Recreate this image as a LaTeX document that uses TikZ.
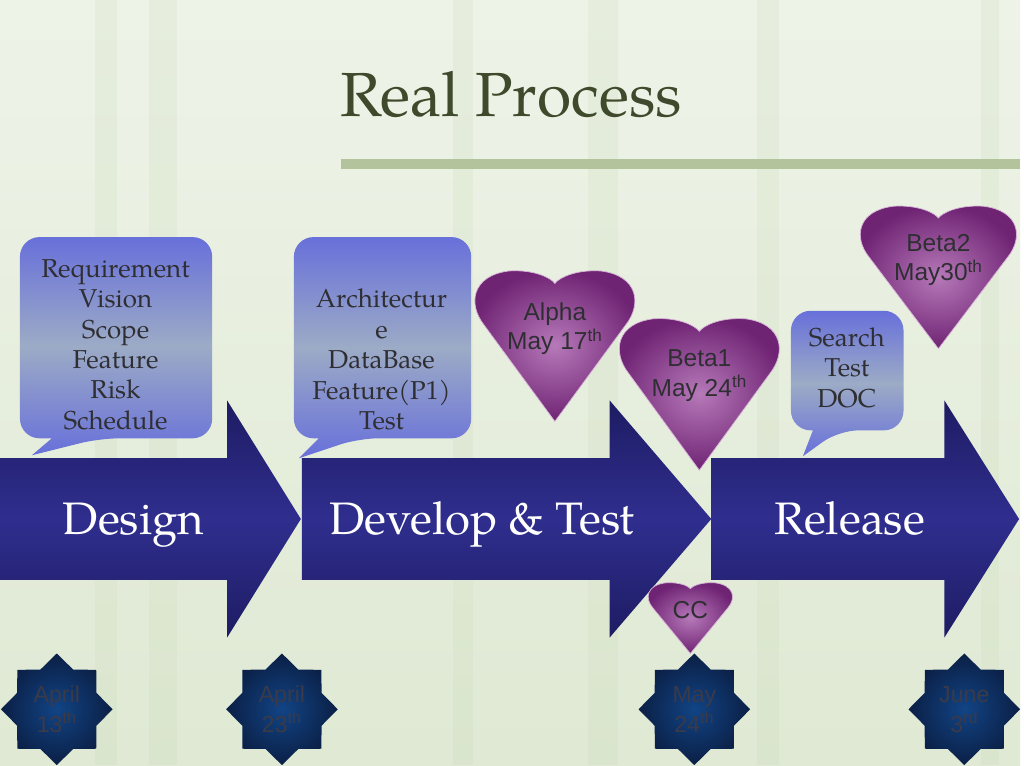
\documentclass[tikz,border=0pt]{standalone}
\usepackage{fontspec}
\setmainfont{TeX Gyre Pagella}
\newfontfamily\heartfont{Liberation Sans}
\usetikzlibrary{shapes.geometric}
\definecolor{bgtop}{HTML}{EEF3E8}
\definecolor{bgbot}{HTML}{DFE9D3}
\definecolor{stem}{HTML}{CFDDBF}
\definecolor{titlecol}{HTML}{3E4A2B}
\definecolor{rulecol}{HTML}{B3C49D}
\definecolor{arrowmid}{HTML}{2F2E8E}
\definecolor{arrowedge}{HTML}{1E1C63}
\definecolor{notetop}{HTML}{6870DA}
\definecolor{notemid}{HTML}{9CABC6}
\definecolor{heartin}{HTML}{B679B9}
\definecolor{heartout}{HTML}{6F2373}
\definecolor{starin}{HTML}{114485}
\definecolor{starout}{HTML}{0B1F45}
\definecolor{inktext}{HTML}{2F2F33}
\definecolor{startext}{HTML}{3A3A48}
\begin{document}
\begin{tikzpicture}[x=0.025cm,y=-0.025cm,
  stage/.style={top color=arrowedge, bottom color=arrowedge, middle color=arrowmid},
  stagetext/.style={text=white, anchor=base, font=\fontsize{32.5}{36}\selectfont},
  note/.style={top color=notetop, bottom color=notetop, middle color=notemid, rounded corners=14pt},
  notetext/.style={text=inktext, align=center, font=\fontsize{18.5}{21.7}\selectfont},
  heart/.style={inner color=heartin, outer color=heartout, draw=heartin!55!white, line width=0.5pt},
  hearttext/.style={text=inktext, align=center, font=\heartfont\fontsize{17.5}{21.3}\selectfont},
  datestar/.style={star, star points=8, star point ratio=1.3, minimum size=2.8cm, inner sep=0pt, inner color=starin, outer color=starout},
  datetext/.style={text=startext, align=center, font=\heartfont\fontsize{16.5}{21.3}\selectfont}]
% background
\fill[top color=bgtop, bottom color=bgbot] (0,0) rectangle (1024,768);
\foreach \x/\w in {95/22,150/28,455/20,590/30,760/22,985/18}
    \fill[stem, opacity=0.25] (\x,0) rectangle ++(\w,768);
% title
\node[text=titlecol, anchor=base, font=\fontsize{44.5}{48}\selectfont] (title) at (513,117) {Real Process};
\fill[rulecol] (342,160) rectangle (1024,170);
% callouts
\path[note] (116,238) -- (213,238) -- (213,440) -- (100,440) [sharp corners] -- (32,457) -- (52,440) [rounded corners=14pt] -- (20,440) -- (20,238) -- cycle;
\path[note] (384,238) -- (473,238) -- (473,440) -- (360,440) [sharp corners] -- (300,460) -- (320,440) [rounded corners=14pt] -- (295,440) -- (295,238) -- cycle;
\path[note] (850,312) -- (907,312) -- (907,432) -- (842,432) [sharp corners] -- (806,458) -- (816,432) [rounded corners=14pt] -- (794,432) -- (794,312) -- cycle;
\node[notetext] (designnote) at (116,346) {Requirement\\Vision\\Scope\\Feature\\Risk\\Schedule};
\node[notetext] (devnote) at (383,361) {Architectur\\e\\DataBase\\Feature(P1)\\Test};
\node[notetext] (relnote) at (850,369) {Search\\Test\\DOC};
% stages
\foreach \a/\b/\c in {0/228/302,303/612/714,714/948/1023}
    \path[stage] (\a,460) -- (\b,460) -- (\b,402) -- (\c,521) -- (\b,640) -- (\b,582) -- (\a,582) -- cycle;
\node[stagetext] (design) at (134,537) {Design};
\node[stagetext] (develop) at (484,537) {Develop \& Test};
\node[stagetext] (release) at (853,537) {Release};
% milestones
\foreach \cx/\cy/\hw/\hh in {557/272/83.5/151,702/320/83.5/152,942/207/81.5/143,693/585/44/71}
{
    \pgfmathsetmacro\hx{\hw*0.025}
    \pgfmathsetmacro\hy{-\hh*0.025}
    \begin{scope}[shift={(\cx,\cy)}, x=\hx cm, y=\hy cm]
    \path[heart] (0,1) -- (-0.85,0.36) .. controls (-1.05,0.22) and (-1.0,0.03) .. (-0.55,0)
        .. controls (-0.25,-0.01) and (-0.05,0.045) .. (0,0.083)
        .. controls (0.05,0.045) and (0.25,-0.01) .. (0.55,0)
        .. controls (1.0,0.03) and (1.05,0.22) .. (0.85,0.36) -- cycle;
    \end{scope}
}
\node[hearttext] (alpha) at (557,330) {Alpha\\May 17\textsuperscript{th}};
\node[hearttext] (betaone) at (702,377) {Beta1\\May 24\textsuperscript{th}};
\node[hearttext] (betatwo) at (942,261) {Beta2\\May30\textsuperscript{th}};
\node[hearttext] (cc) at (693,612) {CC};
% dates
\foreach \n/\x/\d in {apr13/57/April\\13\textsuperscript{th},apr23/283/April\\23\textsuperscript{th},may24/697/May\\24\textsuperscript{th},jun3/968/June\\3\textsuperscript{rd}}
{
    \node[datestar] (\n) at (\x,712) {};
    \node[datetext] at (\n) {\d};
}
\end{tikzpicture}
\end{document}
